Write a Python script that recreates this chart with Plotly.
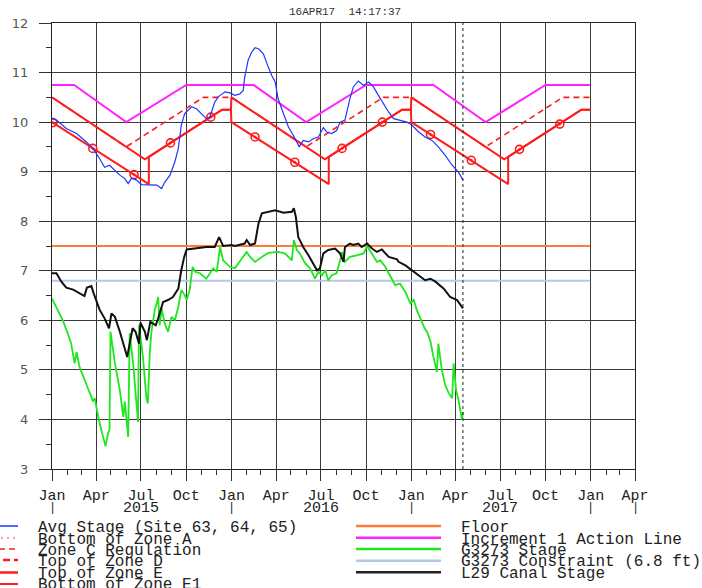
import plotly.graph_objects as go

# ---------------- observed stages ----------------
avg_dates = [
    "2015-01-01", "2015-01-10", "2015-01-30", "2015-02-20", "2015-03-12", "2015-03-25",
    "2015-04-08", "2015-04-18", "2015-04-28", "2015-05-09", "2015-05-19", "2015-05-29",
    "2015-06-05", "2015-06-12", "2015-06-22", "2015-07-02", "2015-07-19", "2015-08-02",
    "2015-08-12", "2015-08-18", "2015-08-29", "2015-09-08", "2015-09-15", "2015-09-21",
    "2015-09-28", "2015-10-12", "2015-10-22", "2015-11-05", "2015-11-11", "2015-11-18",
    "2015-11-24", "2015-11-28", "2015-12-05", "2015-12-19", "2015-12-29", "2016-01-08",
    "2016-01-18", "2016-01-25", "2016-01-28", "2016-02-04", "2016-02-11", "2016-02-18",
    "2016-02-25", "2016-03-06", "2016-03-16", "2016-03-23", "2016-03-30", "2016-04-05",
    "2016-04-16", "2016-04-26", "2016-05-06", "2016-05-13", "2016-05-18", "2016-05-26",
    "2016-06-06", "2016-06-16", "2016-06-26", "2016-07-06", "2016-07-13", "2016-07-23",
    "2016-08-02", "2016-08-09", "2016-08-19", "2016-08-29", "2016-09-05", "2016-09-15",
    "2016-09-26", "2016-10-06", "2016-10-16", "2016-10-26", "2016-11-05", "2016-11-16",
    "2016-11-26", "2016-12-09", "2016-12-23", "2017-01-02", "2017-01-16", "2017-01-29",
    "2017-02-12", "2017-02-25", "2017-03-11", "2017-03-25", "2017-04-07", "2017-04-16",
]
avg_stage = [
    10.07, 10.04, 9.87, 9.77, 9.60, 9.47,
    9.26, 9.09, 9.13, 9.03, 8.93, 8.86,
    8.76, 8.87, 8.83, 8.74, 8.74, 8.73,
    8.66, 8.78, 8.93, 9.20, 9.47, 9.94,
    10.17, 10.31, 10.27, 10.14, 10.07, 10.10,
    10.27, 10.40, 10.51, 10.61, 10.59, 10.54,
    10.57, 10.64, 10.91, 11.25, 11.41, 11.50,
    11.48, 11.38, 11.11, 10.94, 10.81, 10.47,
    10.17, 9.90, 9.73, 9.60, 9.50, 9.63,
    9.60, 9.67, 9.70, 9.89, 9.80, 9.77,
    9.83, 10.00, 10.04, 10.47, 10.71, 10.83,
    10.74, 10.81, 10.71, 10.54, 10.37, 10.20,
    10.07, 10.04, 10.00, 9.94, 9.80, 9.70,
    9.63, 9.50, 9.33, 9.13, 8.99, 8.83,
]

l29_dates = [
    "2015-01-01", "2015-01-10", "2015-01-20", "2015-01-30", "2015-02-13", "2015-02-26",
    "2015-03-08", "2015-03-13", "2015-03-22", "2015-03-27", "2015-04-01", "2015-04-08",
    "2015-04-18", "2015-04-27", "2015-05-02", "2015-05-09", "2015-05-19", "2015-06-03",
    "2015-06-08", "2015-06-14", "2015-06-20", "2015-06-27", "2015-06-30", "2015-07-09",
    "2015-07-13", "2015-07-20", "2015-07-31", "2015-08-05", "2015-08-15", "2015-08-25",
    "2015-09-04", "2015-09-15", "2015-09-21", "2015-09-27", "2015-10-02", "2015-10-22",
    "2015-11-11", "2015-11-28", "2015-12-07", "2015-12-15", "2016-01-01", "2016-01-08",
    "2016-01-18", "2016-01-28", "2016-02-01", "2016-02-08", "2016-02-18", "2016-02-25",
    "2016-03-03", "2016-03-16", "2016-03-30", "2016-04-16", "2016-05-03", "2016-05-07",
    "2016-05-11", "2016-05-16", "2016-05-26", "2016-06-06", "2016-06-16", "2016-06-23",
    "2016-06-29", "2016-07-06", "2016-07-16", "2016-07-30", "2016-08-09", "2016-08-16",
    "2016-08-19", "2016-08-29", "2016-09-05", "2016-09-15", "2016-09-22", "2016-10-03",
    "2016-10-13", "2016-10-23", "2016-11-02", "2016-11-16", "2016-12-03", "2016-12-06",
    "2016-12-20", "2017-01-02", "2017-01-16", "2017-01-29", "2017-02-09", "2017-02-19",
    "2017-03-08", "2017-03-21", "2017-04-04", "2017-04-16",
]
l29_stage = [
    6.95, 6.95, 6.78, 6.66, 6.62, 6.55,
    6.49, 6.66, 6.69, 6.54, 6.41, 6.21,
    6.04, 5.84, 6.14, 6.07, 5.77, 5.26,
    5.53, 5.84, 5.77, 5.53, 5.95, 5.77,
    5.60, 5.97, 5.90, 6.04, 6.37, 6.41,
    6.47, 6.64, 7.01, 7.28, 7.43, 7.45,
    7.48, 7.48, 7.68, 7.50, 7.52, 7.50,
    7.52, 7.55, 7.62, 7.52, 7.55, 7.95,
    8.16, 8.19, 8.22, 8.17, 8.19, 8.26,
    8.09, 7.68, 7.48, 7.31, 7.15, 7.01,
    7.05, 7.35, 7.42, 7.45, 7.35, 7.18,
    7.48, 7.55, 7.52, 7.55, 7.48, 7.55,
    7.45, 7.38, 7.43, 7.28, 7.23, 7.18,
    7.11, 7.01, 6.91, 6.81, 6.84, 6.78,
    6.64, 6.47, 6.41, 6.24,
]

g3273_dates = [
    "2015-01-01", "2015-01-10", "2015-01-23", "2015-02-02", "2015-02-09", "2015-02-16",
    "2015-02-20", "2015-02-26", "2015-03-08", "2015-03-15", "2015-03-22", "2015-03-25",
    "2015-03-29", "2015-04-05", "2015-04-13", "2015-04-20", "2015-04-25", "2015-04-28",
    "2015-04-30", "2015-05-09", "2015-05-19", "2015-05-22", "2015-05-26", "2015-05-29",
    "2015-06-05", "2015-06-08", "2015-06-15", "2015-06-25", "2015-06-27", "2015-07-05",
    "2015-07-12", "2015-07-15", "2015-07-19", "2015-07-22", "2015-07-29", "2015-08-02",
    "2015-08-05", "2015-08-08", "2015-08-12", "2015-08-18", "2015-08-25", "2015-09-01",
    "2015-09-08", "2015-09-15", "2015-09-21", "2015-09-28", "2015-10-02", "2015-10-08",
    "2015-10-14", "2015-10-19", "2015-10-29", "2015-11-11", "2015-11-25", "2015-12-02",
    "2015-12-09", "2015-12-15", "2015-12-29", "2016-01-08", "2016-01-22", "2016-02-01",
    "2016-02-08", "2016-02-18", "2016-03-03", "2016-03-16", "2016-04-05", "2016-04-19",
    "2016-04-29", "2016-05-03", "2016-05-07", "2016-05-13", "2016-05-19", "2016-05-30",
    "2016-06-09", "2016-06-19", "2016-06-26", "2016-07-03", "2016-07-10", "2016-07-16",
    "2016-07-23", "2016-08-02", "2016-08-09", "2016-08-13", "2016-08-19", "2016-08-29",
    "2016-09-12", "2016-09-26", "2016-10-03", "2016-10-13", "2016-10-23", "2016-10-30",
    "2016-11-09", "2016-11-22", "2016-11-29", "2016-12-09", "2016-12-20", "2016-12-30",
    "2017-01-06", "2017-01-12", "2017-01-23", "2017-01-28", "2017-02-02", "2017-02-09",
    "2017-02-15", "2017-02-22", "2017-02-25", "2017-03-04", "2017-03-11", "2017-03-18",
    "2017-03-25", "2017-03-28", "2017-04-02", "2017-04-07", "2017-04-14", "2017-04-16",
]
g3273_stage = [
    6.44, 6.27, 6.00, 5.74, 5.53, 5.13,
    5.36, 5.06, 4.79, 4.63, 4.46, 4.36,
    4.43, 4.05, 3.72, 3.46, 3.72, 3.79,
    5.77, 5.13, 4.59, 4.32, 4.05, 4.36,
    3.65, 5.74, 5.13, 3.95, 5.90, 5.26,
    4.43, 4.32, 5.36, 5.74, 6.21, 6.34,
    6.47, 5.90, 6.24, 5.94, 5.77, 6.07,
    6.00, 6.27, 6.61, 6.51, 6.41, 6.61,
    7.08, 6.98, 6.95, 6.84, 7.05, 6.98,
    7.48, 7.21, 7.08, 7.05, 7.25, 7.38,
    7.28, 7.18, 7.28, 7.36, 7.38, 7.35,
    7.25, 7.21, 7.62, 7.42, 7.35, 7.15,
    7.05, 6.84, 6.98, 6.91, 7.01, 6.81,
    6.91, 6.95, 7.21, 7.38, 7.18, 7.28,
    7.31, 7.35, 7.50, 7.35, 7.18, 7.21,
    7.08, 6.84, 6.71, 6.74, 6.57, 6.34,
    6.41, 6.21, 5.94, 5.84, 5.77, 5.57,
    5.26, 4.96, 5.53, 5.00, 4.69, 4.53,
    4.43, 5.13, 4.59, 4.39, 3.99, 4.15,
]

# ---------------- annual schedule lines (month-day, ft) ----------------
schedule_years = [2015, 2016, 2017]

zone_e_md = ["01-01", "07-09", "12-13", "12-31"]
zone_e_ft = [10.5, 9.25, 10.25, 10.25]

zone_e1_md = ["01-01", "07-17", "07-17", "12-13", "12-31"]
zone_e1_ft = [10.0, 8.75, 9.30, 10.25, 10.25]

zone_c_md = ["01-01", "06-01", "11-05", "12-31"]
zone_c_ft = [10.5, 9.5, 10.5, 10.5]

action_md = ["01-01", "02-15", "06-01", "10-01", "12-31"]
action_ft = [10.75, 10.75, 10.0, 10.75, 10.75]

e1_marker_dates = [
    "2015-01-03", "2015-03-25", "2015-06-17", "2015-08-30", "2015-11-20",
    "2016-02-18", "2016-05-09", "2016-08-13", "2016-11-03",
    "2017-02-09", "2017-05-03", "2017-08-09", "2017-10-30",
]
e1_marker_ft = [9.99, 9.47, 8.94, 9.58, 10.10, 9.70, 9.19, 9.47, 10.00, 9.75, 9.23, 9.45, 9.96]

constant_dates = ["2015-01-01", "2017-12-31"]
floor_ft = [7.5, 7.5]
constraint_ft = [6.8, 6.8]

report_date = "2017-04-16"
report_stamp = "16APR17\u00a0\u00a014:17:37"

# ---------------- axis labels ----------------
quarter_dates = [
    "2015-01-01", "2015-04-01", "2015-07-01", "2015-10-01",
    "2016-01-01", "2016-04-01", "2016-07-01", "2016-10-01",
    "2017-01-01", "2017-04-01", "2017-07-01", "2017-10-01",
    "2018-01-01", "2018-04-01",
]
quarter_text = ["Jan", "Apr", "Jul", "Oct"] * 3 + ["Jan", "Apr"]
year_label_dates = ["2015-07-01", "2016-07-01", "2017-07-01"]
year_labels = ["2015", "2016", "2017"]
year_bar_dates = ["2015-01-01", "2016-01-01", "2017-01-01", "2018-01-01", "2018-04-01"]

RED = "#ff1c1c"
MONO = "Liberation Mono, DejaVu Sans Mono, monospace"


def repeat_schedule(md, ft):
    xs, ys = [], []
    for yr in schedule_years:
        xs += [f"{yr}-{d}" for d in md]
        ys += ft
    return xs, ys


fig = go.Figure()


def add_line(x, y, color, width, dash="solid"):
    fig.add_trace(go.Scatter(x=x, y=y, mode="lines", showlegend=False,
                             line=dict(color=color, width=width, dash=dash),
                             hoverinfo="skip"))


add_line(constant_dates, constraint_ft, "#b5c7e3", 2)
add_line(constant_dates, floor_ft, "#ff7b3a", 2)
add_line(*repeat_schedule(action_md, action_ft), "#ff22ff", 2)
add_line(*repeat_schedule(zone_e1_md, zone_e1_ft), RED, 2)
add_line(*repeat_schedule(zone_e_md, zone_e_ft), RED, 2)
add_line(*repeat_schedule(zone_c_md, zone_c_ft), RED, 1.6, "6px,4px")
fig.add_trace(go.Scatter(x=e1_marker_dates, y=e1_marker_ft, mode="markers", showlegend=False,
                         marker=dict(symbol="circle-open-dot", size=8, color=RED,
                                     line=dict(width=1.6, color=RED)),
                         hoverinfo="skip"))
add_line(g3273_dates, g3273_stage, "#1fe61f", 1.8)
add_line(l29_dates, l29_stage, "#111111", 2)
add_line(avg_dates, avg_stage, "#2036ff", 1.2)

# ---------------- layout geometry (figure pixels -> paper) ----------------
W, H = 702, 588
ML, MR, MT, MB = 52, 67, 23, 119
PW, PH = W - ML - MR, H - MT - MB


def fx(px):
    return (px - ML) / PW


def fy(py):
    return (H - MB - py) / PH


shapes = [
    dict(type="line", xref="x", yref="paper", x0=report_date, x1=report_date, y0=0, y1=1,
         line=dict(color="#222222", width=1, dash="3px,3px")),
]
annotations = [
    dict(xref="paper", yref="paper", x=fx(345), y=fy(12), text=report_stamp, showarrow=False,
         xanchor="center", yanchor="middle", font=dict(family=MONO, size=11, color="#333333")),
]
for d, t in zip(year_label_dates, year_labels):
    annotations.append(dict(xref="x", yref="paper", x=d, y=fy(508.5), text=t, showarrow=False,
                            xanchor="center", yanchor="middle",
                            font=dict(family=MONO, size=15, color="#222222")))
for d in year_bar_dates:
    annotations.append(dict(xref="x", yref="paper", x=d, y=fy(508), text="|", showarrow=False,
                            xanchor="center", yanchor="middle",
                            font=dict(family=MONO, size=12, color="#222222")))

# legend, two columns
legend_left = [
    ("Avg Stage (Site 63, 64, 65)", "#2036ff", 1.5, "solid", 526, 528),
    ("Bottom of Zone A", "#ff8080", 1.5, "2px,4px", 538, 540),
    ("Zone C Regulation", RED, 1.5, "6px,4px", 549, 551),
    ("Top of Zone D", RED, 2.5, "7px,4px", 560, 562),
    ("Top of Zone E", RED, 2.5, "solid", 572.5, 573.5),
    ("Bottom of Zone E1", RED, 2.0, "solid", 584, 584.5),
]
legend_right = [
    ("Floor", "#ff7b3a", 2.5, 526, 528),
    ("Increment 1 Action Line", "#ff22ff", 2.5, 537.7, 540),
    ("G3273 Stage", "#1fe61f", 2.5, 549, 551),
    ("G3273 Constraint (6.8 ft)", "#b5c7e3", 2.5, 560.7, 562),
    ("L29 Canal Stage", "#222222", 2.5, 572.3, 573.5),
]
for label, color, width, dash, ly, ty in legend_left:
    shapes.append(dict(type="line", xref="paper", yref="paper", x0=fx(-41), x1=fx(18),
                       y0=fy(ly), y1=fy(ly), line=dict(color=color, width=width, dash=dash)))
    annotations.append(dict(xref="paper", yref="paper", x=fx(36), y=fy(ty), text=label,
                            showarrow=False, xanchor="left", yanchor="middle",
                            font=dict(family=MONO, size=16, color="#222222")))
for label, color, width, ly, ty in legend_right:
    shapes.append(dict(type="line", xref="paper", yref="paper", x0=fx(356), x1=fx(441),
                       y0=fy(ly), y1=fy(ly), line=dict(color=color, width=width)))
    annotations.append(dict(xref="paper", yref="paper", x=fx(459), y=fy(ty), text=label,
                            showarrow=False, xanchor="left", yanchor="middle",
                            font=dict(family=MONO, size=16, color="#222222")))

fig.update_layout(
    width=W, height=H,
    margin=dict(l=ML, r=MR, t=MT, b=MB),
    paper_bgcolor="white", plot_bgcolor="white",
    showlegend=False,
    shapes=shapes, annotations=annotations,
    xaxis=dict(
        type="date", range=["2015-01-01", "2018-04-01"],
        tickmode="array", tickvals=quarter_dates, ticktext=quarter_text,
        ticks="outside", ticklen=11, tickcolor="#333333", tickwidth=1,
        minor=dict(dtick="M1", tick0="2015-01-01", ticks="outside", ticklen=5,
                   tickcolor="#333333", showgrid=False),
        showgrid=True, gridcolor="#3a3a3a", gridwidth=1,
        showline=True, mirror=True, linecolor="#222222", linewidth=1,
        tickfont=dict(family=MONO, size=15, color="#222222"),
        ticklabelstandoff=1, zeroline=False,
    ),
    yaxis=dict(
        range=[3, 12], tickmode="linear", tick0=3, dtick=1,
        ticks="outside", ticklen=12, tickcolor="#333333", tickwidth=1,
        minor=dict(dtick=0.5, ticks="outside", ticklen=5, tickcolor="#333333", showgrid=False),
        showgrid=True, gridcolor="#3a3a3a", gridwidth=1,
        showline=True, mirror=True, linecolor="#222222", linewidth=1,
        tickfont=dict(family="DejaVu Sans, sans-serif", size=13, color="#555555"),
        ticklabelstandoff=8, zeroline=False,
    ),
)

fig.write_html("out.html")
